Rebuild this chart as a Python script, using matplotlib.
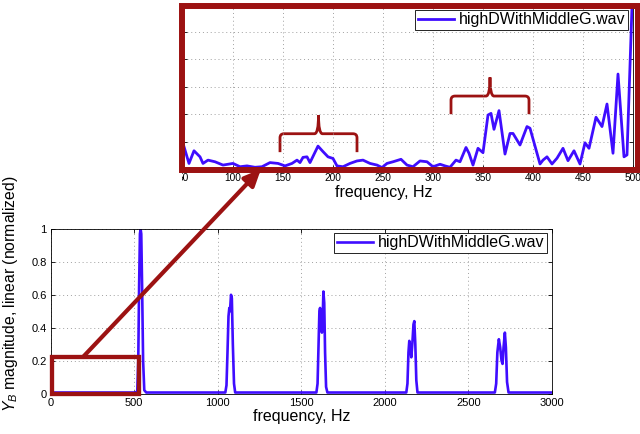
import matplotlib
matplotlib.use('Agg')
import matplotlib.pyplot as plt
from matplotlib.patches import Rectangle, FancyArrowPatch, PathPatch
from matplotlib.path import Path

plt.rcParams['font.family'] = ['Liberation Sans', 'DejaVu Sans']
plt.rcParams['mathtext.fontset'] = 'custom'
plt.rcParams['mathtext.rm'] = 'Liberation Sans'
plt.rcParams['mathtext.it'] = 'Liberation Sans:italic'

# full spectrum, normalized magnitude
freq = [0, 500, 518, 524, 529, 534, 538, 542, 547, 553, 560, 572,
        1045, 1052, 1058, 1064, 1069, 1073, 1079, 1084, 1090, 1097, 1104,
        1590, 1597, 1603, 1608, 1612, 1617, 1623, 1626, 1632, 1637, 1642, 1648, 1656,
        2128, 2135, 2141, 2146, 2152, 2158, 2164, 2171, 2176, 2182, 2188, 2195,
        2658, 2666, 2673, 2682, 2690, 2698, 2704, 2710, 2718, 2724, 2731, 2740, 3000]
mag = [0.006, 0.006, 0.01, 0.2, 0.65, 0.97, 1.0, 0.97, 0.65, 0.2, 0.02, 0.006,
       0.006, 0.05, 0.25, 0.47, 0.52, 0.5, 0.6, 0.58, 0.3, 0.06, 0.006,
       0.006, 0.06, 0.3, 0.5, 0.52, 0.45, 0.37, 0.4, 0.62, 0.55, 0.25, 0.04, 0.006,
       0.006, 0.06, 0.25, 0.32, 0.28, 0.22, 0.3, 0.42, 0.44, 0.3, 0.08, 0.006,
       0.006, 0.06, 0.25, 0.33, 0.28, 0.2, 0.18, 0.28, 0.37, 0.28, 0.07, 0.006, 0.006]

# zoomed view 50-500 Hz, in grid units (its y labels are cropped away)
low_freq = [50, 56, 61, 67, 70, 75, 82, 90, 100, 107, 114, 122, 129, 137, 145, 152,
            159, 164, 167, 170, 174, 177, 185, 190, 195, 200, 204, 210, 217, 224, 230,
            237, 244, 249, 254, 260, 268, 274, 280, 287, 294, 300, 307, 312, 317, 323,
            327, 333, 336, 340, 345, 350, 355, 358, 361, 366, 372, 377, 380, 387, 394,
            397, 407, 410, 414, 419, 424, 430, 435, 441, 447, 452, 456, 463, 469, 474,
            480, 485, 491, 494, 500]
low_mag = [0.94, 0.21, 0.67, 0.45, 0.21, 0.33, 0.27, 0.15, 0.21, 0.09, 0.12, 0.07, 0.09,
           0.24, 0.21, 0.12, 0.21, 0.33, 0.24, 0.43, 0.45, 0.24, 0.84, 0.64, 0.45, 0.39,
           0.12, 0.09, 0.21, 0.30, 0.33, 0.21, 0.15, 0.06, 0.21, 0.27, 0.36, 0.15, 0.09,
           0.30, 0.27, 0.09, 0.18, 0.12, 0.07, 0.33, 0.27, 0.79, 0.58, 0.15, 0.76, 0.60,
           1.97, 2.03, 1.45, 2.13, 0.55, 1.30, 1.30, 0.88, 1.55, 1.49, 0.19, 0.33, 0.45,
           0.19, 0.40, 0.76, 0.31, 0.67, 0.19, 0.96, 0.76, 1.89, 1.55, 2.37, 0.58, 3.46,
           0.45, 0.52, 7.0]

legend_name = 'highDWithMiddleG.wav'
main_xticks = [0, 500, 1000, 1500, 2000, 2500, 3000]
main_yticks = [0, 0.2, 0.4, 0.6, 0.8, 1]
main_ylabels = ['0', '0.2', '0.4', '0.6', '0.8', '1']
low_xticks = [50, 100, 150, 200, 250, 300, 350, 400, 450, 500]

blue = '#3f0dff'
red = '#9c1212'
W, H = 640, 434


def px_box(x, y, w, h):
    return [x / W, 1 - (y + h) / H, w / W, h / H]


def px(x, y):
    return (x / W, 1 - y / H)


def style(ax):
    ax.grid(True, linestyle=(0, (1, 3)), color='#a0a0a0', linewidth=0.7)
    ax.tick_params(direction='in', top=True, right=True, length=3, width=0.6)
    for s in ax.spines.values():
        s.set_linewidth(0.6)


fig = plt.figure(figsize=(6.4, 4.34), dpi=100)

# main spectrum
ax = fig.add_axes(px_box(50.7, 229, 501.3, 164.5))
line, = ax.plot(freq, mag, color=blue, linewidth=1.9)
ax.set_xlim(0, 3000)
ax.set_ylim(0, 1)
ax.set_xticks(main_xticks)
ax.set_yticks(main_yticks)
ax.set_yticklabels(main_ylabels)
style(ax)
ax.tick_params(labelsize=8, pad=3)
ax.set_xlabel('frequency, Hz', fontsize=11.5, labelpad=1)
ax.set_ylabel('$Y_B$ magnitude, linear (normalized)', fontsize=11.3)
ax.yaxis.set_label_coords(-0.062, 0.605)
leg = ax.legend([line], [legend_name], loc='upper right', bbox_to_anchor=(0.990, 0.976),
                borderaxespad=0, fancybox=False, edgecolor='k', framealpha=1,
                fontsize=11.5, handlelength=2.3, handletextpad=0.3, borderpad=0.15)
leg.get_frame().set_linewidth(0.6)

# highlighted region in main plot
ax.add_patch(Rectangle((5, -0.003), 523, 0.225, fill=False, edgecolor=red,
                       linewidth=3.1, clip_on=False, zorder=6))

# zoomed inset
ax2 = fig.add_axes(px_box(183, 4.2, 450, 165))
line2, = ax2.plot(low_freq, low_mag, color=blue, linewidth=2)
ax2.set_xlim(50, 500)
ax2.set_ylim(0, 6)
ax2.set_xticks(low_xticks)
ax2.set_yticks(range(7))
ax2.set_yticklabels([])
style(ax2)
ax2.tick_params(labelsize=7.3, pad=3)
ax2.set_xlabel('frequency, Hz', fontsize=11.5)
ax2.xaxis.set_label_coords(0.4456, -0.095)
leg2 = ax2.legend([line2], [legend_name], loc='upper right', bbox_to_anchor=(0.989, 0.965),
                  borderaxespad=0, fancybox=False, edgecolor='k', framealpha=1,
                  fontsize=11.5, handlelength=2.3, handletextpad=0.3, borderpad=0.15)
leg2.get_frame().set_linewidth(0.6)


# curly brackets over the two note groups
def bracket(x0, x1, xc, yb, yh, yt):
    r, dy = 4, 0.15
    verts = [(x0, yb), (x0, yh - dy), (x0, yh), (x0 + r, yh), (xc - r, yh),
             (xc, yh), (xc, yt), (xc, yh), (xc + r, yh), (x1 - r, yh),
             (x1, yh), (x1, yh - dy), (x1, yb)]
    codes = [Path.MOVETO, Path.LINETO, Path.CURVE3, Path.CURVE3, Path.LINETO,
             Path.CURVE3, Path.CURVE3, Path.CURVE3, Path.CURVE3, Path.LINETO,
             Path.CURVE3, Path.CURVE3, Path.LINETO]
    ax2.add_patch(PathPatch(Path(verts, codes), fill=False, edgecolor=red,
                            linewidth=2, capstyle='butt'))


bracket(147, 224, 185.5, 0.62, 1.29, 1.97)
bracket(318, 396, 357, 2.0, 2.66, 3.34)

# the inset is a cropped view: hide what lies left of the crop
fig.add_artist(Rectangle(px(130, 200), 52.3 / W, 28 / H, transform=fig.transFigure,
                         facecolor='white', edgecolor='none', zorder=5))

# red frame round the inset
fig.add_artist(Rectangle(px(182, 170), 456 / W, 164.5 / H, transform=fig.transFigure,
                         fill=False, edgecolor=red, linewidth=4.3, zorder=6))

# arrow from the region to the inset
fig.add_artist(FancyArrowPatch(px(83, 357), px(261, 169), transform=fig.transFigure,
                               arrowstyle='-|>,head_length=1.0,head_width=0.45',
                               mutation_scale=10, linewidth=3, color=red,
                               shrinkA=0, shrinkB=0, zorder=7))

fig.savefig('out.png', dpi=100)
